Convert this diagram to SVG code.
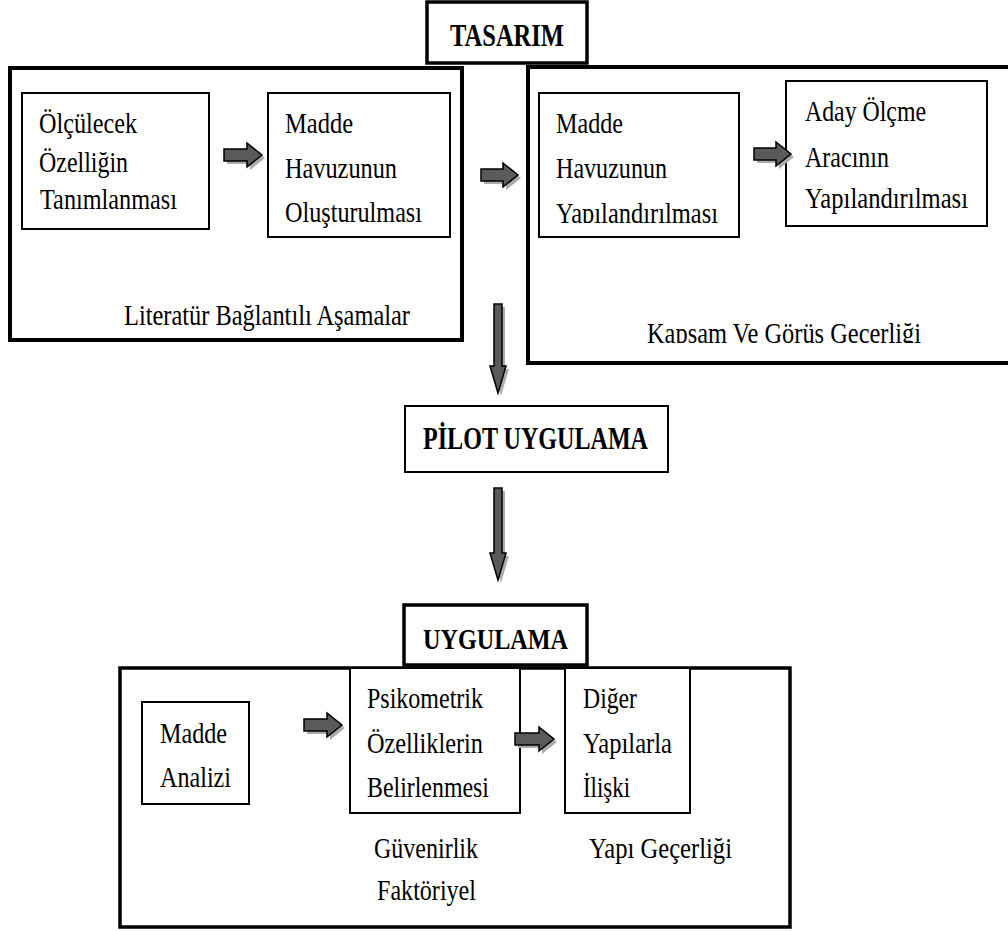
<svg xmlns="http://www.w3.org/2000/svg" width="1008" height="931" viewBox="0 0 1008 931" font-family="'Liberation Serif', 'Times New Roman', Tinos, 'DejaVu Serif', serif">
<style>
  .t { font-family: 'Liberation Serif', 'Times New Roman', Tinos, 'DejaVu Serif', serif; font-size: 30px; fill: #000; }
  .b { font-weight: bold; font-size: 32px; }
  .big { fill: #fff; stroke: #000; stroke-width: 4; }
  .box { fill: #fff; stroke: #000; stroke-width: 2; }
  .arr { fill: #5a5a5a; stroke: #000; stroke-width: 1.5; stroke-linejoin: miter; }
  .sh { fill: #ababab; stroke: none; }
</style>
<defs>
  <clipPath id="clipY"><rect x="540" y="90" width="200" height="133"/></clipPath>
  <clipPath id="clipK"><rect x="530" y="300" width="470" height="43"/></clipPath>
</defs>

<g id="tasarim">
  <rect x="427" y="2" width="160" height="61" class="box" style="stroke-width:3.5"/>
  <text class="t b" x="450" y="46" textLength="114" lengthAdjust="spacingAndGlyphs">TASARIM</text>
</g>

<g id="literatur">
  <rect x="10" y="68" width="452" height="272" class="big"/>
  <text class="t" x="124" y="325" textLength="286" lengthAdjust="spacingAndGlyphs">Literatür Bağlantılı Aşamalar</text>
</g>

<g id="olculecek">
  <rect x="22" y="93" width="187" height="136" class="box"/>
  <text class="t" x="39" y="133" textLength="98" lengthAdjust="spacingAndGlyphs">Ölçülecek</text>
  <text class="t" x="39" y="172" textLength="89" lengthAdjust="spacingAndGlyphs">Özelliğin</text>
  <text class="t" x="40" y="209" textLength="137" lengthAdjust="spacingAndGlyphs">Tanımlanması</text>
</g>

<g id="madde-havuz-olusturma">
  <rect x="268" y="93" width="182" height="144" class="box"/>
  <text class="t" x="285" y="133" textLength="68" lengthAdjust="spacingAndGlyphs">Madde</text>
  <text class="t" x="285" y="178" textLength="112" lengthAdjust="spacingAndGlyphs">Havuzunun</text>
  <text class="t" x="285" y="222" textLength="137" lengthAdjust="spacingAndGlyphs">Oluşturulması</text>
</g>

<g id="kapsam">
  <rect x="528" y="67" width="490" height="296" class="big"/>
  <text class="t" x="647" y="343" textLength="274" lengthAdjust="spacingAndGlyphs" clip-path="url(#clipK)">Kapsam Ve Görüş Geçerliği</text>
</g>

<g id="madde-havuz-yapi">
  <rect x="539" y="93" width="200" height="144" class="box"/>
  <text class="t" x="556" y="133" textLength="67" lengthAdjust="spacingAndGlyphs">Madde</text>
  <text class="t" x="556" y="178" textLength="111" lengthAdjust="spacingAndGlyphs">Havuzunun</text>
  <text class="t" x="556" y="223" textLength="162" lengthAdjust="spacingAndGlyphs" clip-path="url(#clipY)">Yapılandırılması</text>
</g>

<g id="aday">
  <rect x="786" y="81" width="201" height="145" class="box"/>
  <text class="t" x="805" y="121" textLength="121" lengthAdjust="spacingAndGlyphs">Aday Ölçme</text>
  <text class="t" x="805" y="167" textLength="84" lengthAdjust="spacingAndGlyphs">Aracının</text>
  <text class="t" x="805" y="208" textLength="163" lengthAdjust="spacingAndGlyphs">Yapılandırılması</text>
</g>

<g id="pilot">
  <rect x="405" y="406" width="263" height="66" class="box"/>
  <text class="t b" x="423" y="449" textLength="225" lengthAdjust="spacingAndGlyphs">PİLOT UYGULAMA</text>
</g>

<g id="uygulama-alan">
  <rect x="120" y="668" width="670" height="259" class="big" style="stroke-width:3.5"/>
  <text class="t" x="374" y="858" textLength="104" lengthAdjust="spacingAndGlyphs">Güvenirlik</text>
  <text class="t" x="377" y="900" textLength="99" lengthAdjust="spacingAndGlyphs">Faktöriyel</text>
  <text class="t" x="589" y="858" textLength="143" lengthAdjust="spacingAndGlyphs">Yapı Geçerliği</text>
</g>

<g id="uygulama">
  <rect x="404" y="605" width="183" height="60" class="box" style="stroke-width:3.5"/>
  <text class="t b" x="423" y="649" textLength="145" lengthAdjust="spacingAndGlyphs" style="font-size:30px">UYGULAMA</text>
</g>

<g id="madde-analizi">
  <rect x="142" y="702" width="107" height="102" class="box"/>
  <text class="t" x="160" y="743" textLength="67" lengthAdjust="spacingAndGlyphs">Madde</text>
  <text class="t" x="160" y="787" textLength="71" lengthAdjust="spacingAndGlyphs">Analizi</text>
</g>

<g id="psikometrik">
  <rect x="350" y="668" width="170" height="145" class="box"/>
  <text class="t" x="367" y="708" textLength="116" lengthAdjust="spacingAndGlyphs">Psikometrik</text>
  <text class="t" x="367" y="753" textLength="116" lengthAdjust="spacingAndGlyphs">Özelliklerin</text>
  <text class="t" x="367" y="797" textLength="122" lengthAdjust="spacingAndGlyphs">Belirlenmesi</text>
</g>

<g id="diger">
  <rect x="565" y="668" width="125" height="145" class="box"/>
  <text class="t" x="583" y="708" textLength="54" lengthAdjust="spacingAndGlyphs">Diğer</text>
  <text class="t" x="583" y="753" textLength="89" lengthAdjust="spacingAndGlyphs">Yapılarla</text>
  <text class="t" x="583" y="797" textLength="47" lengthAdjust="spacingAndGlyphs">İlişki</text>
</g>

<g id="connectors">
  <path class="sh" d="M227,152 H250 V146 L265,158 L250,170 V164 H227 Z"/>
  <path class="arr" d="M224,149 H247 V143 L262,155 L247,167 V161 H224 Z"/>

  <path class="sh" d="M484,172 H506 V166 L521,178 L506,190 V184 H484 Z"/>
  <path class="arr" d="M481,169 H503 V163 L518,175 L503,187 V181 H481 Z"/>

  <path class="sh" d="M757,151 H779 V145 L794,157 L779,169 V163 H757 Z"/>
  <path class="arr" d="M754,148 H776 V142 L791,154 L776,166 V160 H754 Z"/>

  <path class="sh" d="M307,722 H330 V716 L345,728 L330,740 V734 H307 Z"/>
  <path class="arr" d="M304,719 H327 V713 L342,725 L327,737 V731 H304 Z"/>

  <path class="sh" d="M518,736 H542 V730 L557,742 L542,754 V748 H518 Z"/>
  <path class="arr" d="M515,733 H539 V727 L554,739 L539,751 V745 H515 Z"/>

  <path class="sh" d="M497,307 H505 V369 H509 L501,396 L493,369 H497 Z"/>
  <path class="arr" d="M494,304 H502 V366 H506 L498,393 L490,366 H494 Z"/>

  <path class="sh" d="M497,491 H505 V556 H509 L501,583 L493,556 H497 Z"/>
  <path class="arr" d="M494,488 H502 V553 H506 L498,580 L490,553 H494 Z"/>
</g>
</svg>
